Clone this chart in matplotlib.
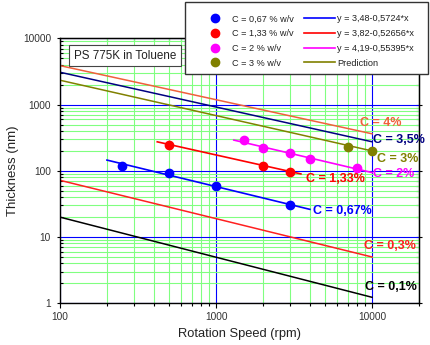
import numpy as np
import matplotlib
matplotlib.use('Agg')
import matplotlib.pyplot as plt
from matplotlib import ticker
from matplotlib.lines import Line2D
from matplotlib.patches import Rectangle

plt.rcParams['font.family'] = ['Liberation Sans', 'DejaVu Sans']

# measured film thickness vs spin speed
rpm_067 = [250, 500, 1000, 3000]
thick_067 = [120, 94, 59, 30]
rpm_133 = [500, 2000, 3000]
thick_133 = [250, 120, 97]
rpm_2 = [1500, 2000, 3000, 4000, 8000]
thick_2 = [290, 221, 183, 150, 110]
rpm_3 = [7000, 10000]
thick_3 = [230, 200]

# log-log fits: log10(t) = a - b*log10(rpm)
fit_067 = (3.48, 0.5724)
fit_133 = (3.82, 0.52656)
fit_2 = (4.19, 0.55395)
fit_range_067 = [200, 4000]
fit_range_133 = [420, 3500]
fit_range_2 = [1300, 10000]

# predicted curves, end points at 100 and 10000 rpm
pred_rpm = [100, 10000]
pred_4 = [3890, 363]
pred_35 = [3090, 275]
pred_3 = [2340, 200]
pred_03 = [72, 5.0]
pred_01 = [20, 1.23]

fig = plt.figure(figsize=(4.3, 3.45), dpi=100)
ax = fig.add_axes([0.1395, 0.121, 0.835, 0.7675])
ax.set_xscale('log')
ax.set_yscale('log')
ax.set_xlim(100, 20000)
ax.set_ylim(1, 10000)

ax.set_axisbelow(True)
ax.grid(True, which='minor', color='#80ff80', lw=0.8)
ax.grid(True, which='major', color='#0000ff', lw=0.8)


def fit_line(params, rng):
    x = np.array(rng, dtype=float)
    return x, 10 ** (params[0] - params[1] * np.log10(x))


# prediction lines
ax.plot(pred_rpm, pred_4, color='#f0603c', lw=1.1)
ax.plot(pred_rpm, pred_35, color='#000080', lw=1.1)
ax.plot(pred_rpm, pred_3, color='#808000', lw=1.1)
ax.plot(pred_rpm, pred_03, color='#ff2020', lw=1.1)
ax.plot(pred_rpm, pred_01, color='black', lw=1.1)

# fits
ax.plot(*fit_line(fit_067, fit_range_067), color='#0000ff', lw=1.2)
ax.plot(*fit_line(fit_133, fit_range_133), color='#ff0000', lw=1.2)
ax.plot(*fit_line(fit_2, fit_range_2), color='#ff00ff', lw=1.2)

# data points
ax.plot(rpm_067, thick_067, 'o', color='#0000ff', ms=6)
ax.plot(rpm_133, thick_133, 'o', color='#ff0000', ms=6)
ax.plot(rpm_2, thick_2, 'o', color='#ff00ff', ms=6)
ax.plot(rpm_3, thick_3, 'o', color='#808000', ms=6)

# curve labels
labels = [
    ('C = 4%', 8380, 533, '#f0603c'),
    ('C = 3,5%', 10150, 295, '#000080'),
    ('C = 3%', 10770, 152, '#808000'),
    ('C = 2%', 10150, 90, '#ff00ff'),
    ('C = 1,33%', 3776, 75.7, '#ff0000'),
    ('C = 0,67%', 4190, 24.8, '#0000ff'),
    ('C = 0,3%', 8890, 7.3, '#ff2020'),
    ('C = 0,1%', 9020, 1.75, 'black'),
]
for txt, x, y, c in labels:
    ax.text(x, y, txt, color=c, fontsize=9, fontweight='bold',
            ha='left', va='center')

ax.text(0.181, 0.935, 'PS 775K in Toluene', transform=ax.transAxes,
        fontsize=8.4, ha='center', va='center', color='#222222',
        bbox=dict(boxstyle='square,pad=0.4', fc='white', ec='#444444', lw=0.8))

# axes formatting
fmt = ticker.FuncFormatter(lambda v, p: '%d' % round(v))
ax.xaxis.set_major_formatter(fmt)
ax.yaxis.set_major_formatter(fmt)
ax.xaxis.set_minor_formatter(ticker.NullFormatter())
ax.yaxis.set_minor_formatter(ticker.NullFormatter())
ax.tick_params(axis='x', which='major', direction='out', length=3.5, width=0.8,
               labelsize=7.3, labelcolor='#333333', pad=3)
ax.tick_params(axis='x', which='minor', direction='out', length=2.5, width=0.8)
ax.tick_params(axis='y', which='major', direction='out', length=2.5, width=0.8,
               labelsize=7.3, labelcolor='#333333', pad=4)
ax.tick_params(axis='y', which='minor', direction='in', length=2.5, width=0.8)
for sp in ax.spines.values():
    sp.set_linewidth(1.0)

# inward ticks on top and right
secx = ax.secondary_xaxis('top')
secx.xaxis.set_major_formatter(ticker.NullFormatter())
secx.xaxis.set_minor_formatter(ticker.NullFormatter())
secx.tick_params(which='major', direction='in', length=3.5, width=0.8)
secx.tick_params(which='minor', direction='in', length=2.5, width=0.8)
secy = ax.secondary_yaxis('right')
secy.yaxis.set_major_formatter(ticker.NullFormatter())
secy.yaxis.set_minor_formatter(ticker.NullFormatter())
secy.tick_params(which='major', direction='inout', length=5, width=0.8)
secy.tick_params(which='minor', direction='in', length=2.5, width=0.8)

ax.set_xlabel('Rotation Speed (rpm)', fontsize=9.3, color='#222222', labelpad=4)
ax.set_ylabel('Thickness (nm)', fontsize=9.5, color='#222222', labelpad=3)

# legend with its own frame
W, H = 430.0, 345.0
fig.patches.append(Rectangle((185 / W, 1 - 74 / H), 243 / W, 72 / H,
                             transform=fig.transFigure, fc='white',
                             ec='#333333', lw=1.0, zorder=5))
handles = [
    Line2D([], [], ls='none', marker='o', ms=6, color='#0000ff'),
    Line2D([], [], ls='none', marker='o', ms=6, color='#ff0000'),
    Line2D([], [], ls='none', marker='o', ms=6, color='#ff00ff'),
    Line2D([], [], ls='none', marker='o', ms=6, color='#808000'),
    Line2D([], [], color='#0000ff', lw=1.2),
    Line2D([], [], color='#ff0000', lw=1.2),
    Line2D([], [], color='#ff00ff', lw=1.2),
    Line2D([], [], color='#808000', lw=1.2),
]
names = ['C = 0,67 % w/v', 'C = 1,33 % w/v', 'C = 2 % w/v', 'C = 3 % w/v',
         'y = 3,48-0,5724*x', 'y = 3,82-0,52656*x', 'y = 4,19-0,55395*x',
         'Prediction']
leg = fig.legend(handles, names, ncol=2, loc='center',
                 bbox_to_anchor=(306.5 / W, 1 - 41 / H),
                 bbox_transform=fig.transFigure, frameon=False,
                 fontsize=6.6, handlelength=3.4, handletextpad=0.2,
                 columnspacing=1.1, labelspacing=0.62, borderpad=0.3)
leg.set_zorder(6)
for t in leg.get_texts():
    t.set_color('#222222')

fig.savefig('out.png', dpi=100)
